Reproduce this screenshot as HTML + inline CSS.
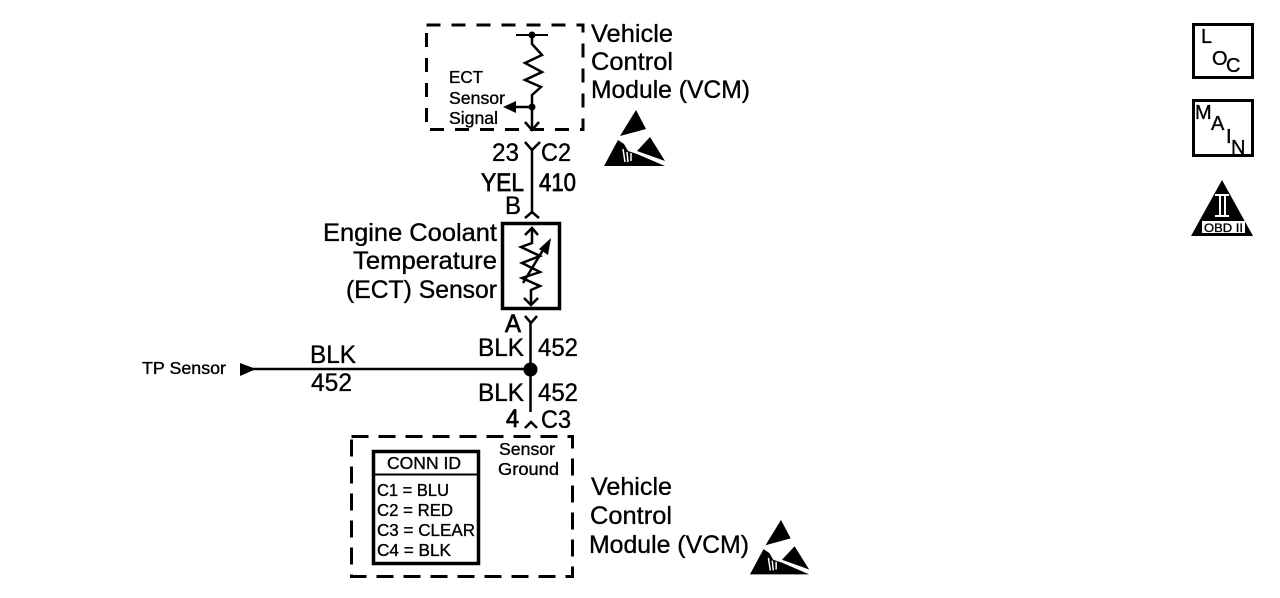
<!DOCTYPE html>
<html>
<head>
<meta charset="utf-8">
<style>
html,body{margin:0;padding:0;background:#fff;}
svg{display:block;}
text{font-family:"Liberation Sans",sans-serif;fill:#000;stroke:#000;stroke-width:.35;}
.l{font-size:25px;}
.s{font-size:17.500px;}
.i{font-size:20px;}
</style>
</head>
<body>
<svg width="1280" height="598" viewBox="0 0 1280 598" xmlns="http://www.w3.org/2000/svg">
<rect width="1280" height="598" fill="#fff" stroke="none"/>

<!-- top dashed box -->
<rect x="426.500" y="25" width="156.500" height="104.500" fill="none" stroke="#000" stroke-width="3" stroke-dasharray="14 11"/>

<!-- top resistor -->
<g fill="none" stroke="#000" stroke-width="2.500">
<path d="M516 35H548" stroke-width="2"/>
<path d="M532 35V44L542 55L525 63L542 72L525 80L541 87L532 95V128"/>
<path d="M525 122L532 130L539 122"/>
<path d="M532 107H510"/>
<path d="M525 142L532 150L540 142"/>
<path d="M532 150V213"/>
<path d="M525 218L532 212L539 218"/>
</g>
<circle cx="532" cy="35" r="3.500"/>
<circle cx="532" cy="107" r="3.500"/>
<polygon points="503,107 516,101 516,113"/>

<!-- top labels -->
<text class="l" x="591" y="42" textLength="82" lengthAdjust="spacingAndGlyphs">Vehicle</text>
<text class="l" x="591" y="70" textLength="82" lengthAdjust="spacingAndGlyphs">Control</text>
<text class="l" x="591" y="98" textLength="159" lengthAdjust="spacingAndGlyphs">Module (VCM)</text>
<text class="s" x="449" y="83" textLength="34" lengthAdjust="spacingAndGlyphs">ECT</text>
<text class="s" x="449" y="104" textLength="56" lengthAdjust="spacingAndGlyphs">Sensor</text>
<text class="s" x="449" y="124" textLength="49" lengthAdjust="spacingAndGlyphs">Signal</text>

<text class="l" x="492" y="161" textLength="27" lengthAdjust="spacingAndGlyphs">23</text>
<text class="l" x="541" y="161" textLength="30" lengthAdjust="spacingAndGlyphs">C2</text>
<text class="l" x="481" y="191" textLength="43" lengthAdjust="spacingAndGlyphs" style="stroke-width:.7">YEL</text>
<text class="l" x="539" y="191" textLength="37" lengthAdjust="spacingAndGlyphs" style="stroke-width:.7">410</text>
<text class="l" x="505" y="214" textLength="16" lengthAdjust="spacingAndGlyphs">B</text>

<!-- ECT sensor -->
<rect x="502.500" y="223.500" width="57" height="85" fill="none" stroke="#000" stroke-width="3.500"/>
<g fill="none" stroke="#000" stroke-width="2.500">
<path d="M532 229V243L521 247L540 256L522 263L540 272L522 278L540 286L531 290V304"/>
<path d="M525 235L532 228L538 235"/>
<path d="M524 298L531 305L538 298"/>
<path d="M523 283L546 245"/>
</g>
<polygon points="551,238 548,255 539,249"/>

<text class="l" x="323" y="241" textLength="174" lengthAdjust="spacingAndGlyphs">Engine Coolant</text>
<text class="l" x="353" y="269" textLength="144" lengthAdjust="spacingAndGlyphs">Temperature</text>
<text class="l" x="346" y="298" textLength="151" lengthAdjust="spacingAndGlyphs">(ECT) Sensor</text>

<!-- lower wiring -->
<g fill="none" stroke="#000" stroke-width="2.500">
<path d="M525 316L531 323L537 316"/>
<path d="M530.500 322V412"/>
<path d="M525 428L531 422L537 428"/>
<path d="M245 369H530"/>
</g>
<circle cx="530.500" cy="369.500" r="7"/>
<polygon points="240,363 256,369 240,376"/>

<text class="s" x="142" y="374" textLength="84" lengthAdjust="spacingAndGlyphs">TP Sensor</text>
<text class="l" x="310" y="363" textLength="46" lengthAdjust="spacingAndGlyphs">BLK</text>
<text class="l" x="311" y="391" textLength="41" lengthAdjust="spacingAndGlyphs">452</text>
<text class="l" x="505" y="332" textLength="16" lengthAdjust="spacingAndGlyphs" style="stroke-width:.7">A</text>
<text class="l" x="478" y="356" textLength="46" lengthAdjust="spacingAndGlyphs">BLK</text>
<text class="l" x="538" y="356" textLength="40" lengthAdjust="spacingAndGlyphs">452</text>
<text class="l" x="478" y="401" textLength="46" lengthAdjust="spacingAndGlyphs">BLK</text>
<text class="l" x="538" y="401" textLength="40" lengthAdjust="spacingAndGlyphs">452</text>
<text class="l" x="506" y="427" textLength="13" lengthAdjust="spacingAndGlyphs" style="stroke-width:.8">4</text>
<text class="l" x="541" y="428" textLength="30" lengthAdjust="spacingAndGlyphs">C3</text>

<!-- bottom dashed box -->
<rect x="351.500" y="436.500" width="221" height="140" fill="none" stroke="#000" stroke-width="3" stroke-dasharray="17 10"/>
<text class="s" x="499" y="455" textLength="56" lengthAdjust="spacingAndGlyphs">Sensor</text>
<text class="s" x="498" y="475" textLength="61" lengthAdjust="spacingAndGlyphs">Ground</text>

<!-- conn id -->
<rect x="373.500" y="451.500" width="105" height="112" fill="none" stroke="#000" stroke-width="3.500"/>
<path d="M373 474.500H479" stroke="#000" stroke-width="2"/>
<text class="s" x="387" y="469" textLength="74" lengthAdjust="spacingAndGlyphs">CONN ID</text>
<text class="s" x="377" y="496" textLength="72" lengthAdjust="spacingAndGlyphs">C1 = BLU</text>
<text class="s" x="377" y="516" textLength="76" lengthAdjust="spacingAndGlyphs">C2 = RED</text>
<text class="s" x="377" y="536" textLength="98" lengthAdjust="spacingAndGlyphs">C3 = CLEAR</text>
<text class="s" x="377" y="556" textLength="74" lengthAdjust="spacingAndGlyphs">C4 = BLK</text>

<text class="l" x="591" y="495" textLength="81" lengthAdjust="spacingAndGlyphs">Vehicle</text>
<text class="l" x="590" y="524" textLength="82" lengthAdjust="spacingAndGlyphs">Control</text>
<text class="l" x="589" y="553" textLength="160" lengthAdjust="spacingAndGlyphs">Module (VCM)</text>

<!-- ESD 1 -->
<g>
<polygon points="636,110 646,129 620,136"/>
<polygon points="650,137 665,161 637,151"/>
<polygon points="618,140 604,166 665,166 637,154 628,151 624,144"/>
<path d="M623 149L625 162M627 152L628 162M631 153L631 161" stroke="#fff" stroke-width="1.500" fill="none"/>
</g>
<!-- ESD 2 -->
<g transform="translate(781 520) scale(.97) translate(-636 -110)">
<polygon points="636,110 646,129 620,136"/>
<polygon points="650,137 665,161 637,151"/>
<polygon points="618,140 604,166 665,166 637,154 628,151 624,144"/>
<path d="M623 149L625 162M627 152L628 162M631 153L631 161" stroke="#fff" stroke-width="1.500" fill="none"/>
</g>

<!-- LOC -->
<rect x="1193.500" y="24.500" width="59" height="53" fill="none" stroke="#000" stroke-width="3"/>
<text class="i" x="1201" y="43">L</text>
<text class="i" x="1212" y="65">O</text>
<text class="i" x="1226" y="72">C</text>

<!-- MAIN -->
<rect x="1193.500" y="100.500" width="59" height="55" fill="none" stroke="#000" stroke-width="3"/>
<text class="i" x="1195" y="119">M</text>
<text class="i" x="1211" y="130">A</text>
<text class="i" x="1226" y="143">I</text>
<text class="i" x="1231" y="154">N</text>

<!-- OBD II -->
<polygon points="1222,180 1253,236 1191,236"/>
<path d="M1215 195H1229M1215 216H1229M1220 196V215M1225 196V215" stroke="#fff" stroke-width="2" fill="none"/>
<rect x="1202" y="221" width="43" height="12" fill="#fff"/>
<text x="1204" y="232" font-size="12" textLength="39" lengthAdjust="spacingAndGlyphs">OBD II</text>
</svg>
</body>
</html>
